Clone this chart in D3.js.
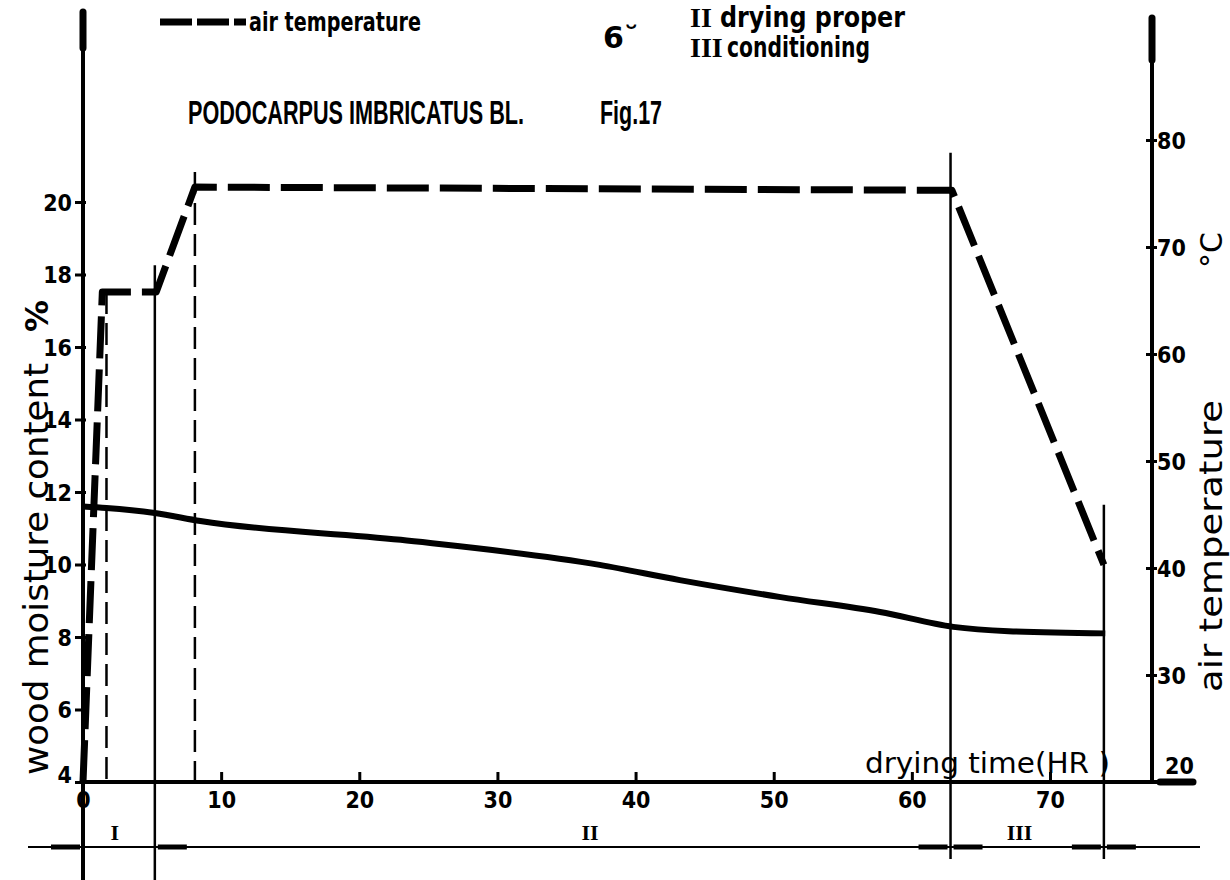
<!DOCTYPE html>
<html>
<head>
<meta charset="utf-8">
<script src="https://cdn.jsdelivr.net/npm/d3@7"></script>
<style>
  html, body { margin: 0; padding: 0; background: #fff; }
  svg { display: block; }
  .lbl { font-family: "DejaVu Sans", sans-serif; fill: #000; }
  .roman { font-family: "Liberation Serif", serif; font-weight: bold; fill: #000; }
</style>
</head>
<body>
<svg id="chart" width="1230" height="880"></svg>
<script>
// ---------------- data ----------------
const hourTicks = [0, 10, 20, 30, 40, 50, 60, 70];
const moistureTicks = [4, 6, 8, 10, 12, 14, 16, 18, 20];
const tempTicks = [20, 30, 40, 50, 60, 70, 80];

// wood moisture content (%) vs drying time (hr)
const moistHours = [0, 1.7, 5.2, 8.5, 23, 37.4, 43.2, 50.5, 57.7, 63, 67, 74];
const moistValues = [11.6, 11.56, 11.42, 11.2, 10.68, 9.99, 9.57, 9.1, 8.69, 8.28, 8.16, 8.1];

// air temperature (°C) vs drying time (hr)
const tempHours = [0, 1.4, 5.3, 8.1, 62.9, 73.9];
const tempValues = [20, 65.8, 65.8, 75.6, 75.3, 40.3];

// phase boundary markers: hour, top (°C), dashed?
const markerHours = [1.7, 5.2, 8.1, 62.8, 73.9];
const markerTops = [65.8, 68.3, 77, 78.8, 45.9];
const markerDashed = [true, false, true, false, false];

// phases
const phaseBounds = [0, 5.2, 62.8, 73.9];
const phaseLabels = ["I", "II", "III"];
const phaseLabelHours = [2.3, 36.7, 67.8];

// ---------------- chart ----------------
const svg = d3.select("#chart");
const x = d3.scaleLinear().domain([0, 70]).range([83, 1050]);
const yM = d3.scaleLinear().domain([4, 20]).range([782, 202]);
const yT = d3.scaleLinear().domain([20, 80]).range([782, 140]);
const axisY = yM(4);
const phaseY = 847;

function styleTick(sel) {
  sel.attr("fill", "#000")
    .style("font-family", "'Liberation Sans Narrow', 'DejaVu Sans Condensed', sans-serif")
    .style("font-weight", "bold")
    .style("font-size", "23px");
}

// axes lines
svg.append("line").attr("x1", x(0)).attr("x2", x(0)).attr("y1", 10).attr("y2", 880)
  .attr("stroke", "#000").attr("stroke-width", 4);
svg.append("line").attr("x1", x(0)).attr("x2", x(0)).attr("y1", 12).attr("y2", 48)
  .attr("stroke", "#000").attr("stroke-width", 7).attr("stroke-linecap", "round");
const rightX = 1152;
svg.append("line").attr("x1", rightX).attr("x2", rightX).attr("y1", 16).attr("y2", axisY)
  .attr("stroke", "#000").attr("stroke-width", 4);
svg.append("line").attr("x1", rightX).attr("x2", rightX).attr("y1", 18).attr("y2", 60)
  .attr("stroke", "#000").attr("stroke-width", 7).attr("stroke-linecap", "round");
svg.append("line").attr("x1", x(0)).attr("x2", 1195).attr("y1", axisY).attr("y2", axisY)
  .attr("stroke", "#000").attr("stroke-width", 4);
svg.append("line").attr("x1", 1160).attr("x2", 1193).attr("y1", axisY).attr("y2", axisY)
  .attr("stroke", "#000").attr("stroke-width", 7).attr("stroke-linecap", "round");

// left axis ticks
const gL = svg.append("g").attr("transform", `translate(${x(0)},0)`)
  .call(d3.axisLeft(yM).tickValues(moistureTicks).tickSize(8).tickFormat(d3.format("d")));
gL.select(".domain").remove();
gL.selectAll(".tick line").attr("stroke", "#000").attr("stroke-width", 3).attr("x2", -8).attr("x1", 3);
gL.selectAll(".tick text").call(styleTick).attr("x", -11).attr("dy", "0.35em");
gL.selectAll(".tick").filter(d => d === 4).select("text").attr("dy", "0em");

// right axis ticks
const gR = svg.append("g").attr("transform", `translate(${rightX},0)`)
  .call(d3.axisRight(yT).tickValues(tempTicks).tickSize(6).tickFormat(d3.format("d")));
gR.select(".domain").remove();
gR.selectAll(".tick line").attr("stroke", "#000").attr("stroke-width", 3).attr("x1", -6).attr("x2", 5);
gR.selectAll(".tick text").call(styleTick).attr("x", 5).attr("dy", "0.35em");
gR.selectAll(".tick").filter(d => d === 20).select("text").attr("x", 13).attr("dy", "-0.35em");

// bottom axis ticks
const gB = svg.append("g").attr("transform", `translate(0,${axisY})`)
  .call(d3.axisBottom(x).tickValues(hourTicks).tickSize(0).tickFormat(d3.format("d")));
gB.select(".domain").remove();
gB.selectAll(".tick line").attr("stroke", "#000").attr("stroke-width", 3).attr("y1", -10).attr("y2", 2);
gB.selectAll(".tick text").call(styleTick).attr("y", 10).attr("dy", "0.71em");

// phase boundary vertical lines
markerHours.forEach((h, i) => {
  const dashed = markerDashed[i];
  svg.append("line")
    .attr("x1", x(h)).attr("x2", x(h))
    .attr("y1", yT(markerTops[i]))
    .attr("y2", dashed ? axisY : phaseY + 12 + (i === 1 ? 30 : 0))
    .attr("stroke", "#000").attr("stroke-width", 2.5)
    .attr("stroke-dasharray", dashed ? "22,9" : null);
});

// moisture curve
const moistData = moistHours.map((h, i) => [h, moistValues[i]]);
svg.append("path").datum(moistData)
  .attr("d", d3.line().x(d => x(d[0])).y(d => yM(d[1])).curve(d3.curveMonotoneX))
  .attr("fill", "none").attr("stroke", "#000").attr("stroke-width", 6).attr("stroke-linejoin", "round");

// temperature curve (thick dashed)
const tempData = tempHours.map((h, i) => [h, tempValues[i]]);
svg.append("path").datum(tempData)
  .attr("d", d3.line().x(d => x(d[0])).y(d => yT(d[1])))
  .attr("fill", "none").attr("stroke", "#000").attr("stroke-width", 7)
  .attr("stroke-dasharray", "42,11").attr("stroke-linejoin", "round");

// phase dimension line
svg.append("line").attr("x1", 28).attr("x2", 1200).attr("y1", phaseY).attr("y2", phaseY)
  .attr("stroke", "#000").attr("stroke-width", 2);
const arrowSegs = [[phaseBounds[0], -1], [phaseBounds[1], 1], [phaseBounds[2], -1], [phaseBounds[2], 1], [phaseBounds[3], -1], [phaseBounds[3], 1]];
arrowSegs.forEach(([h, side]) => {
  const bx = x(h);
  svg.append("line").attr("x1", bx + side * 3).attr("x2", bx + side * 32)
    .attr("y1", phaseY).attr("y2", phaseY)
    .attr("stroke", "#000").attr("stroke-width", 5);
});
phaseLabels.forEach((t, i) => {
  svg.append("text").attr("class", "roman").attr("x", x(phaseLabelHours[i])).attr("y", phaseY - 7)
    .attr("text-anchor", "middle").attr("font-size", 22).text(t);
});

// axis titles
svg.append("text").attr("class", "lbl").attr("font-size", 34)
  .attr("transform", "translate(48,775) rotate(-90)")
  .attr("textLength", 412).attr("lengthAdjust", "spacingAndGlyphs")
  .text("wood  moisture  content");
svg.append("text").attr("class", "lbl").attr("font-size", 32).attr("font-weight", "bold")
  .attr("transform", "translate(48,332) rotate(-90)").text("%");

svg.append("text").attr("class", "lbl").attr("font-size", 32)
  .attr("transform", "translate(1222,692) rotate(-90)")
  .attr("textLength", 292).attr("lengthAdjust", "spacingAndGlyphs")
  .text("air  temperature");
svg.append("text").attr("class", "lbl").attr("font-size", 30)
  .attr("transform", "translate(1222,268) rotate(-90)").text("°C");

svg.append("text").attr("class", "lbl").attr("font-size", 29)
  .attr("x", 865).attr("y", 773).attr("textLength", 245).attr("lengthAdjust", "spacingAndGlyphs")
  .text("drying  time(HR )");

// title
svg.append("text").attr("class", "lbl").attr("font-size", 25).attr("font-weight", "bold")
  .attr("transform", "translate(188,124) scale(1,1.3)")
  .attr("textLength", 336).attr("lengthAdjust", "spacingAndGlyphs")
  .style("font-family", "'Liberation Sans Narrow', sans-serif")
  .text("PODOCARPUS IMBRICATUS BL.");
svg.append("text").attr("class", "lbl").attr("font-size", 25).attr("font-weight", "bold")
  .attr("transform", "translate(600,124) scale(1,1.3)")
  .attr("textLength", 62).attr("lengthAdjust", "spacingAndGlyphs")
  .style("font-family", "'Liberation Sans Narrow', sans-serif")
  .text("Fig.17");

// legend
svg.append("line").attr("x1", 160).attr("x2", 246).attr("y1", 22).attr("y2", 22)
  .attr("stroke", "#000").attr("stroke-width", 7).attr("stroke-dasharray", "32,5");
svg.append("text").attr("class", "lbl").attr("font-size", 27).attr("font-weight", "bold")
  .attr("x", 249).attr("y", 31).attr("textLength", 172).attr("lengthAdjust", "spacingAndGlyphs")
  .text("air  temperature");

svg.append("text").attr("class", "roman").attr("font-size", 28).attr("x", 690).attr("y", 27).text("II");
svg.append("text").attr("class", "lbl").attr("font-size", 28).attr("font-weight", "bold")
  .attr("x", 720).attr("y", 27).attr("textLength", 185).attr("lengthAdjust", "spacingAndGlyphs")
  .text("drying proper");
svg.append("text").attr("class", "roman").attr("font-size", 28).attr("x", 690).attr("y", 57).text("III");
svg.append("text").attr("class", "lbl").attr("font-size", 28).attr("font-weight", "bold")
  .attr("x", 727).attr("y", 57).attr("textLength", 143).attr("lengthAdjust", "spacingAndGlyphs")
  .text("conditioning");
svg.append("text").attr("class", "lbl").attr("font-size", 30).attr("font-weight", "bold")
  .attr("x", 603).attr("y", 48).text("6\u02D8");
</script>
</body>
</html>
